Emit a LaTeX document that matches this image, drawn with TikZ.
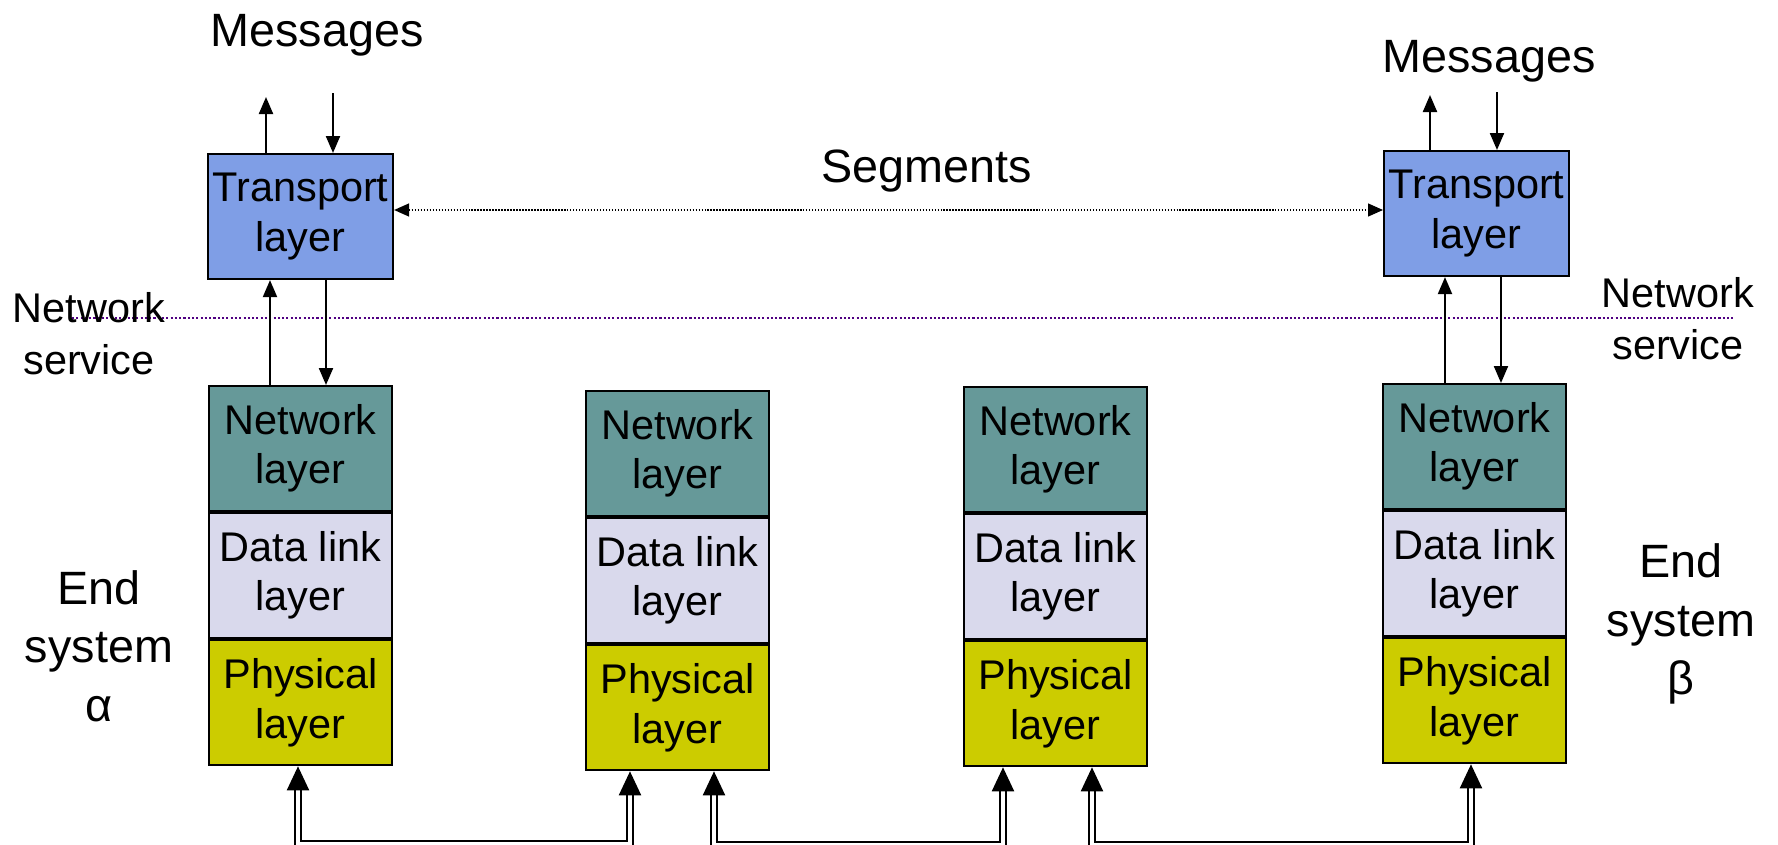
\documentclass[tikz,border=0pt]{standalone}
\usepackage{fontspec}
\setmainfont{Liberation Sans}
\usetikzlibrary{arrows.meta,positioning}

\definecolor{transblue}{RGB}{127,158,230}
\definecolor{netteal}{RGB}{102,153,153}
\definecolor{linklav}{RGB}{217,217,236}
\definecolor{physyel}{RGB}{204,204,0}
\definecolor{svcpurple}{RGB}{80,0,130}

\tikzset{
  layer/.style={draw, line width=0.6pt, minimum width=18.3mm, minimum height=12.5mm,
    inner sep=0pt, align=center, font=\fontsize{11.8}{14}\selectfont},
  translayer/.style={layer, fill=transblue, minimum width=18.5mm},
  netlayer/.style={layer, fill=netteal},
  linklayer/.style={layer, fill=linklav},
  physlayer/.style={layer, fill=physyel},
  bigtext/.style={font=\fontsize{13.3}{16.6}\selectfont, align=center},
  svctext/.style={font=\fontsize{11.8}{14.7}\selectfont, align=center},
  arr/.style={line width=0.6pt, -{Triangle[width=1.4mm,length=1.7mm]}},
  seg/.style={line width=0.4pt, dash pattern=on 0.4pt off 0.45pt,
    {Triangle[width=1.3mm,length=1.5mm]}-{Triangle[width=1.3mm,length=1.5mm]}},
  wire/.style={double, line width=0.6pt, double distance=0.9pt,
    {Triangle[width=2.2mm,length=2.4mm]}-{Triangle[width=2.2mm,length=2.4mm]}}
}

\begin{document}
\begin{tikzpicture}[x=0.1mm, y=-0.1mm]
    \useasboundingbox (0,0) rectangle (1778,845);

    % network service boundary
    \draw[svcpurple, line width=0.6pt, dash pattern=on 0.6pt off 0.62pt] (72,318) -- (1733,318);

    % transport layers
    \node[translayer, anchor=north west] (tl) at (207,153) {Transport\\layer};
    \node[translayer, anchor=north west] (tr) at (1383,150) {Transport\\layer};

    % layer stacks
    \foreach \c/\x/\y in {1/208/385, 2/585/390, 3/963/386, 4/1382/383}{
        \node[netlayer, anchor=north west] (net\c) at (\x,\y) {Network\\layer};
        \node[linklayer, below=0pt of net\c] (dl\c) {Data link\\layer};
        \node[physlayer, below=0pt of dl\c] (phy\c) {Physical\\layer};
    }

    % labels
    \node[bigtext, anchor=base] (msgl) at (317,46) {Messages};
    \node[bigtext, anchor=base] (msgr) at (1489,72) {Messages};
    \node[bigtext, anchor=base] (seg) at (927,182) {Segments};
    \node[svctext] (svcl) at (89,334) {Network\\service};
    \node[svctext] (svcr) at (1678,319) {Network\\service};
    \node[bigtext] (esa) at (99,646) {End\\system\\α};
    \node[bigtext] (esb) at (1681,624) {End\\system\\β};

    % messages in and out
    \draw[arr] ([xshift=5.9mm]tl.north west) -- ++(0,-56);
    \draw[arr] ([xshift=12.6mm]tl.north west) ++(0,-60) -- ++(0,60);
    \draw[arr] ([xshift=4.7mm]tr.north west) -- ++(0,-55);
    \draw[arr] ([xshift=11.4mm]tr.north west) ++(0,-58) -- ++(0,58);

    % transport <-> network
    \coordinate (ul) at ([xshift=6.2mm]net1.north west);
    \coordinate (dl) at ([xshift=11.8mm]net1.north west);
    \coordinate (ur) at ([xshift=6.3mm]net4.north west);
    \coordinate (dr) at ([xshift=11.9mm]net4.north west);
    \draw[arr] (ul) -- (ul |- tl.south);
    \draw[arr] (dl |- tl.south) -- (dl);
    \draw[arr] (ur) -- (ur |- tr.south);
    \draw[arr] (dr |- tr.south) -- (dr);

    % segments
    \draw[seg] (tl.east |- 0,210) -- (tr.west |- 0,210);

    % physical links
    \draw[wire] ([xshift=9mm]phy1.south west) -- ++(0,77) -| ([xshift=4.5mm]phy2.south west);
    \draw[wire] ([xshift=12.9mm]phy2.south west) -- ++(0,73) -| ([xshift=4mm]phy3.south west);
    \draw[wire] ([xshift=12.9mm]phy3.south west) -- ++(0,77) -| ([xshift=8.9mm]phy4.south west);
\end{tikzpicture}
\end{document}
